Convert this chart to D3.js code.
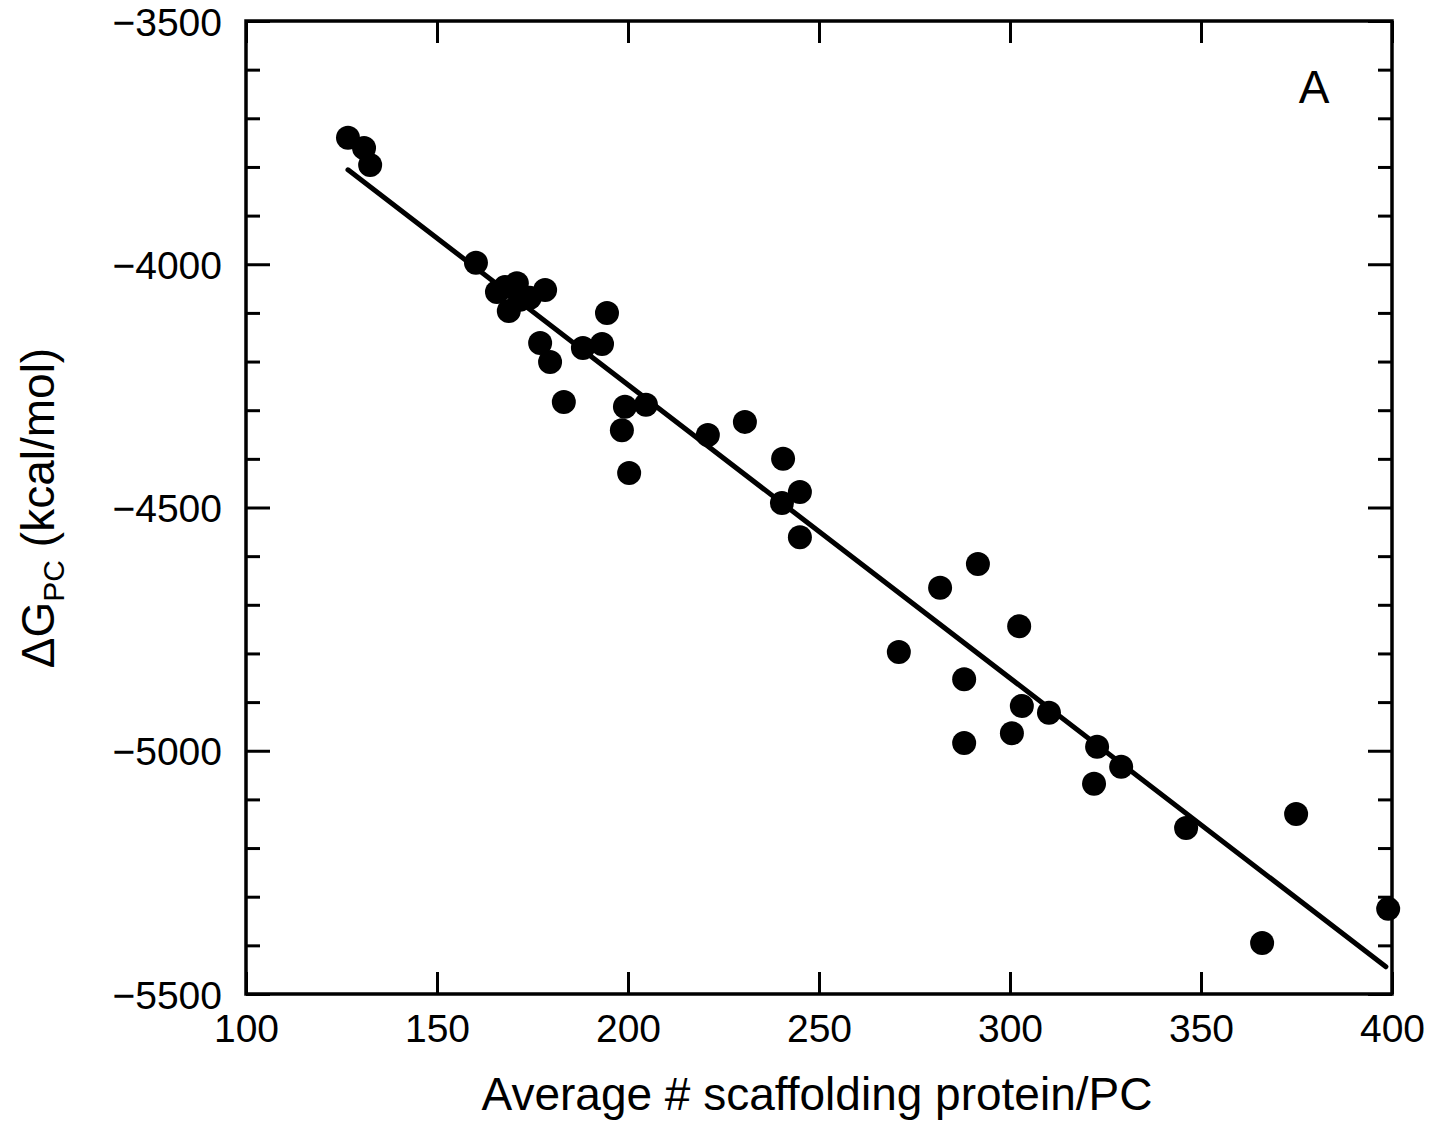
<!DOCTYPE html>
<html>
<head>
<meta charset="utf-8">
<script src="https://cdn.jsdelivr.net/npm/d3@7"></script>
<style>
  html, body { margin: 0; padding: 0; background: #fff; }
  svg text { font-family: "Liberation Sans", Arial, Helvetica, sans-serif; fill: #000; }
</style>
</head>
<body>
<svg id="chart" width="1437" height="1123"></svg>
<script>
// Scaffolding protein count per procapsid vs. assembly free energy
const scaffoldCount = [
  126.7, 130.9, 132.5, 160.2,
  165.7, 167.8, 170.9, 168.8, 174.3, 178.3, 171.7,
  194.5, 177.0, 179.6, 188.2, 193.2, 183.2, 204.7, 199.2, 198.4, 200.3,
  220.9, 230.6, 240.6, 245.0, 240.3, 245.0,
  291.6, 281.7, 302.4, 270.9, 288.0, 303.1, 310.2, 300.5, 288.0,
  322.8, 329.1, 322.0, 346.1, 374.9, 366.0, 399.0
];
const deltaG = [
  -3740, -3761, -3796, -3997,
  -4057, -4047, -4039, -4096, -4069, -4053, -4073,
  -4100, -4162, -4201, -4172, -4164, -4283, -4289, -4293, -4341, -4429,
  -4351, -4324, -4400, -4468, -4491, -4561,
  -4616, -4665, -4744, -4797, -4853, -4908, -4922, -4964, -4984,
  -4992, -5033, -5068, -5159, -5130, -5395, -5325
];

// Linear fit drawn over the sampled range
const fitSlope = -6.029;
const fitIntercept = -3042;
const fitRange = [126.7, 398.4];

const xTicks = [100, 150, 200, 250, 300, 350, 400];
const yTicks = [-3500, -4000, -4500, -5000, -5500];
const yMinorTicks = d3.range(-3500, -5501, -100).filter(v => v % 500 !== 0);

const plotLeft = 246, plotRight = 1392, plotTop = 21, plotBottom = 994;
const svg = d3.select("#chart");

const x = d3.scaleLinear().domain([100, 400]).range([plotLeft, plotRight]);
const y = d3.scaleLinear().domain([-3500, -5500]).range([plotTop, plotBottom]);

const fmt = d3.format("d");

// Left axis: major ticks inward with labels
const gLeft = svg.append("g").attr("transform", `translate(${plotLeft},0)`)
  .call(d3.axisLeft(y).tickValues(yTicks).tickSizeInner(-24).tickSizeOuter(0)
    .tickPadding(24).tickFormat(fmt));
gLeft.selectAll("text").style("font-size", "39px").attr("dy", 14);
// minor ticks
svg.append("g").attr("transform", `translate(${plotLeft},0)`)
  .call(d3.axisLeft(y).tickValues(yMinorTicks).tickSizeInner(-14).tickSizeOuter(0).tickFormat(""));

// Right axis: ticks inward, no labels
svg.append("g").attr("transform", `translate(${plotRight},0)`)
  .call(d3.axisRight(y).tickValues(yTicks).tickSizeInner(-24).tickSizeOuter(0).tickFormat(""));
svg.append("g").attr("transform", `translate(${plotRight},0)`)
  .call(d3.axisRight(y).tickValues(yMinorTicks).tickSizeInner(-14).tickSizeOuter(0).tickFormat(""));

// Bottom axis: ticks inward with labels
const gBottom = svg.append("g").attr("transform", `translate(0,${plotBottom})`)
  .call(d3.axisBottom(x).tickValues(xTicks).tickSizeInner(-22).tickSizeOuter(0)
    .tickPadding(20).tickFormat(fmt));
gBottom.selectAll("text").style("font-size", "39px");

// Top axis: ticks inward only
svg.append("g").attr("transform", `translate(0,${plotTop})`)
  .call(d3.axisTop(x).tickValues(xTicks).tickSizeInner(-22).tickSizeOuter(0).tickFormat(""));

svg.selectAll(".domain").remove();
svg.selectAll(".tick line").attr("stroke", "#000").attr("stroke-width", 3);

// Frame
svg.append("rect")
  .attr("x", plotLeft).attr("y", plotTop)
  .attr("width", plotRight - plotLeft).attr("height", plotBottom - plotTop)
  .attr("fill", "none").attr("stroke", "#000").attr("stroke-width", 3.5);

// Fit line
svg.append("line")
  .attr("x1", x(fitRange[0])).attr("y1", y(fitIntercept + fitSlope * fitRange[0]))
  .attr("x2", x(fitRange[1])).attr("y2", y(fitIntercept + fitSlope * fitRange[1]))
  .attr("stroke", "#000").attr("stroke-width", 5).attr("stroke-linecap", "round");

// Points
const points = scaffoldCount.map((v, i) => ({ x: v, y: deltaG[i] }));
svg.append("g").selectAll("circle").data(points).join("circle")
  .attr("cx", d => x(d.x)).attr("cy", d => y(d.y)).attr("r", 12).attr("fill", "#000");

// Panel letter
svg.append("text").attr("x", 1314).attr("y", 103).attr("text-anchor", "middle")
  .style("font-size", "46px").text("A");

// Axis titles
svg.append("text").attr("x", 817).attr("y", 1110).attr("text-anchor", "middle")
  .style("font-size", "46px").text("Average # scaffolding protein/PC");

const yl = svg.append("text")
  .attr("transform", `translate(54,508) rotate(-90)`)
  .attr("text-anchor", "middle")
  .style("font-size", "46px");
yl.append("tspan").text("ΔG");
yl.append("tspan").attr("dy", 10).style("font-size", "30px").text("PC");
yl.append("tspan").attr("dy", -10).text(" (kcal/mol)");
</script>
</body>
</html>
